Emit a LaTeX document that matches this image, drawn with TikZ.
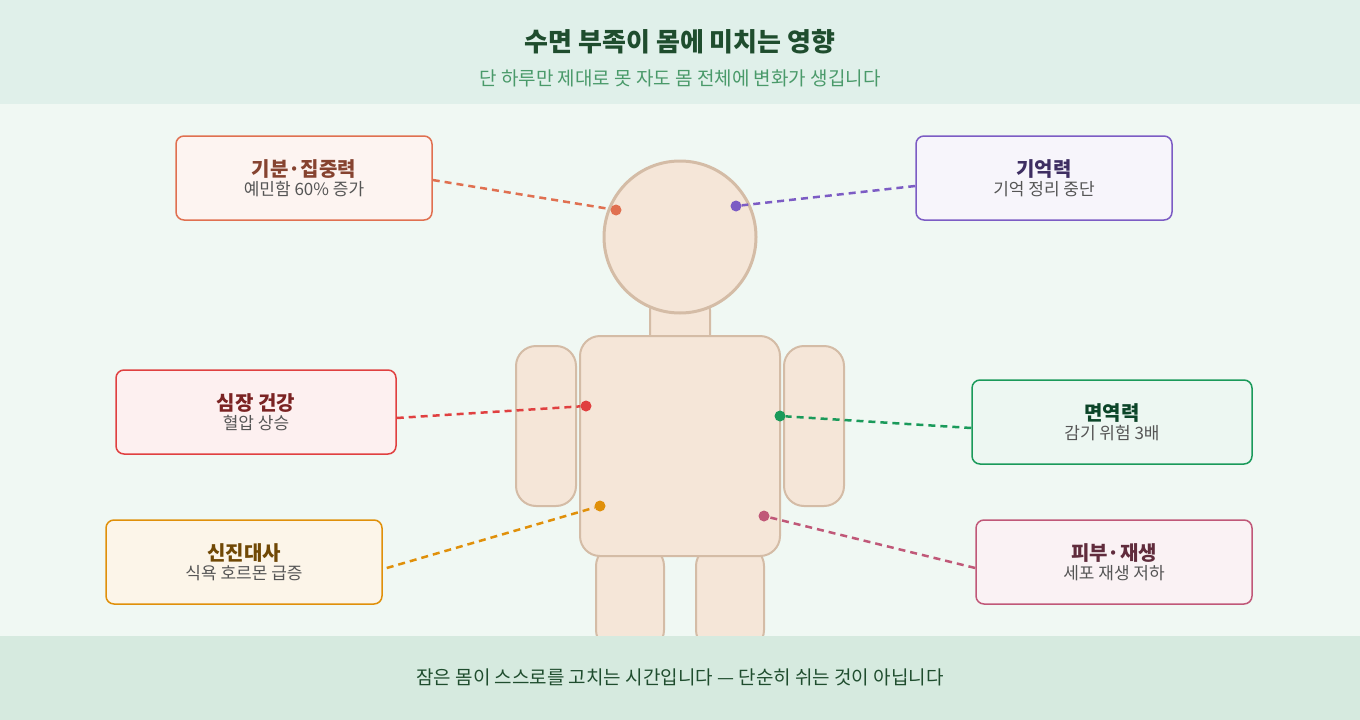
\documentclass[tikz,border=0pt]{standalone}
\usepackage{fontspec}
\setmainfont{Noto Sans CJK KR}
\newfontfamily\krbold[FakeBold=0]{Noto Sans CJK KR Bold}
\definecolor{headbg}{HTML}{E0F0EA}
\definecolor{bodybg}{HTML}{F0F8F3}
\definecolor{footbg}{HTML}{D6EADF}
\definecolor{titlegreen}{HTML}{1F4D2E}
\definecolor{subgreen}{HTML}{4A9A6A}
\definecolor{skin}{HTML}{F5E6D8}
\definecolor{skinline}{HTML}{D4BCA6}
\definecolor{subgray}{HTML}{555555}
\definecolor{cMood}{HTML}{E07050}
\definecolor{cMem}{HTML}{7C5CC4}
\definecolor{cHeart}{HTML}{E04040}
\definecolor{cImmu}{HTML}{1A9A5A}
\definecolor{cMeta}{HTML}{E0900A}
\definecolor{cSkin}{HTML}{C05878}
\tikzset{
  bodypart/.style={draw=skinline, fill=skin, line width=2pt, rounded corners=20pt},
  infobox/.style={rounded corners=8pt, line width=1.5pt, minimum width=#1, minimum height=84pt, align=center, inner sep=0pt},
  link/.style={dashed, line width=2.5pt, dash pattern=on 7pt off 5pt},
  dot/.style={circle, inner sep=0pt, minimum size=11pt}
}
\begin{document}
\begin{tikzpicture}[x=1pt,y=-1pt]
\useasboundingbox (0,0) rectangle (1360,720);
% background bands
\fill[bodybg] (0,0) rectangle (1360,720);
\fill[headbg] (0,0) rectangle (1360,104);
\fill[footbg] (0,636) rectangle (1360,720);
\node (title) at (680,42) {\fontsize{26}{30}\selectfont\bfseries\color{titlegreen}수면 부족이 몸에 미치는 영향};
\node (subtitle) at (680,78) {\fontsize{19}{22}\selectfont\color{subgreen}단 하루만 제대로 못 자도 몸 전체에 변화가 생깁니다};

% body figure
\draw[bodypart] (596,546) rectangle (664,650);
\draw[bodypart] (696,546) rectangle (764,650);
\fill[footbg] (580,636) rectangle (780,720);
\draw[bodypart, rounded corners=8pt] (650,302) rectangle (710,346);
\draw[bodypart] (516,346) rectangle (576,506);
\draw[bodypart] (784,346) rectangle (844,506);
\draw[bodypart] (580,336) rectangle (780,556);
\draw[draw=skinline, fill=skin, line width=3pt] (680,237) circle (76);
\node (footer) at (680,677) {\fontsize{19}{22}\selectfont\color{titlegreen}잠은 몸이 스스로를 고치는 시간입니다 — 단순히 쉬는 것이 아닙니다};

% dots
\node[dot, fill=cMood] (dMood) at (616,210) {};
\node[dot, fill=cMem] (dMem) at (736,206) {};
\node[dot, fill=cHeart] (dHeart) at (586,406) {};
\node[dot, fill=cImmu] (dImmu) at (780,416) {};
\node[dot, fill=cMeta] (dMeta) at (600,506) {};
\node[dot, fill=cSkin] (dSkin) at (764,516) {};

% boxes
\node[infobox=256pt, draw=cMood, fill=cMood!8] (bMood) at (304,178)
  {{\fontsize{20}{24}\selectfont\bfseries\color{cMood!60!black}기분·집중력}\\[2pt]{\fontsize{17}{20}\selectfont\color{subgray}예민함 60\% 증가}};
\node[infobox=256pt, draw=cMem, fill=cMem!6] (bMem) at (1044,178)
  {{\fontsize{20}{24}\selectfont\bfseries\color{cMem!50!black}기억력}\\[2pt]{\fontsize{17}{20}\selectfont\color{subgray}기억 정리 중단}};
\node[infobox=280pt, draw=cHeart, fill=cHeart!8] (bHeart) at (256,412)
  {{\fontsize{20}{24}\selectfont\bfseries\color{cHeart!55!black}심장 건강}\\[2pt]{\fontsize{17}{20}\selectfont\color{subgray}혈압 상승}};
\node[infobox=280pt, draw=cImmu, fill=cImmu!8] (bImmu) at (1112,422)
  {{\fontsize{20}{24}\selectfont\bfseries\color{cImmu!45!black}면역력}\\[2pt]{\fontsize{17}{20}\selectfont\color{subgray}감기 위험 3배}};
\node[infobox=276pt, draw=cMeta, fill=cMeta!9] (bMeta) at (244,562)
  {{\fontsize{20}{24}\selectfont\bfseries\color{cMeta!50!black}신진대사}\\[2pt]{\fontsize{17}{20}\selectfont\color{subgray}식욕 호르몬 급증}};
\node[infobox=276pt, draw=cSkin, fill=cSkin!8] (bSkin) at (1114,562)
  {{\fontsize{20}{24}\selectfont\bfseries\color{cSkin!50!black}피부·재생}\\[2pt]{\fontsize{17}{20}\selectfont\color{subgray}세포 재생 저하}};

% connectors
\draw[link, cMood] ([yshift=-2pt]bMood.east) -- (dMood);
\draw[link, cMem] ([yshift=-8pt]bMem.west) -- (dMem);
\draw[link, cHeart] ([yshift=-6pt]bHeart.east) -- (dHeart);
\draw[link, cImmu] ([yshift=-6pt]bImmu.west) -- (dImmu);
\draw[link, cMeta] ([xshift=4pt,yshift=-6pt]bMeta.east) -- (dMeta);
\draw[link, cSkin] ([yshift=-6pt]bSkin.west) -- (dSkin);
\end{tikzpicture}
\end{document}
